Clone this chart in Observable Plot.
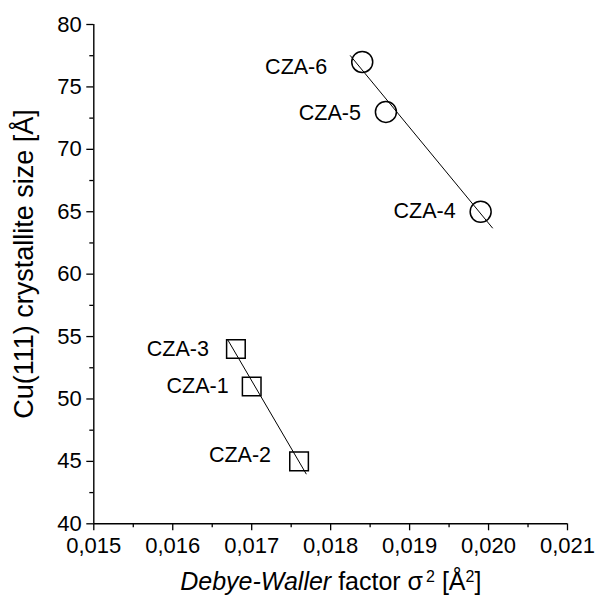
<!DOCTYPE html>
<html>
<head>
<meta charset="utf-8">
<script src="https://cdn.jsdelivr.net/npm/d3@7"></script>
<script src="https://cdn.jsdelivr.net/npm/@observablehq/plot@0.6"></script>
<style>
  html, body { margin: 0; padding: 0; background: #fff; }
  #chart { width: 595px; height: 601px; }
</style>
</head>
<body>
<div id="chart"></div>
<script>
// ---- data ----
const sampleNames = ["CZA-1", "CZA-2", "CZA-3", "CZA-4", "CZA-5", "CZA-6"];
const debyeWaller = [0.0170, 0.0176, 0.0168, 0.0199, 0.0187, 0.0184];
const crystalliteSize = [51, 45, 54, 65, 73, 77];
const markerShape = ["square", "square", "square", "circle", "circle", "circle"];

// fitted lines (end points)
const fitCircleX = [0.01825, 0.02005];
const fitCircleY = [77.5, 63.7];
const fitSquareX = [0.01670, 0.01769];
const fitSquareY = [54.7, 44.0];

const xTicks = [0.015, 0.016, 0.017, 0.018, 0.019, 0.020, 0.021];
const xTickLabels = ["0,015", "0,016", "0,017", "0,018", "0,019", "0,020", "0,021"];
const xMinorTicks = [0.0155, 0.0165, 0.0175, 0.0185, 0.0195, 0.0205];
const yTicks = [40, 45, 50, 55, 60, 65, 70, 75, 80];
const yTickLabels = ["40", "45", "50", "55", "60", "65", "70", "75", "80"];
const yMinorTicks = [42.5, 47.5, 52.5, 57.5, 62.5, 67.5, 72.5, 77.5];

// ---- tables built from arrays ----
const points = sampleNames.map((n, i) => ({name: n, x: debyeWaller[i], y: crystalliteSize[i], shape: markerShape[i]}));
const fitCircle = fitCircleX.map((x, i) => ({x, y: fitCircleY[i]}));
const fitSquare = fitSquareX.map((x, i) => ({x, y: fitSquareY[i]}));
const xLab = new Map(xTicks.map((t, i) => [t, xTickLabels[i]]));
const yLab = new Map(yTicks.map((t, i) => [t, yTickLabels[i]]));

// label nudges (style)
const labelNudge = {
  "CZA-1": [-23, 0], "CZA-2": [-28, -6], "CZA-3": [-27, 0],
  "CZA-4": [-25, -1], "CZA-5": [-25, 1], "CZA-6": [-35, 5]
};

const font = "'Liberation Sans', Arial, sans-serif";

const plot = Plot.plot({
  width: 595,
  height: 601,
  marginLeft: 93.3,
  marginRight: 28,
  marginTop: 24,
  marginBottom: 77.7,
  style: {fontFamily: font, fontSize: "22px", color: "#000", background: "#fff", overflow: "visible"},
  x: {domain: [0.015, 0.021], label: null},
  y: {domain: [40, 80], label: null},
  symbol: {legend: false},
  marks: [
    Plot.axisX({ticks: xTicks, tickSize: 7, tickPadding: 6.5, tickFormat: d => xLab.get(d), label: null, strokeWidth: 1.3, fontSize: 22}),
    Plot.axisX({ticks: xMinorTicks, tickSize: 4, tickFormat: () => "", label: null, strokeWidth: 1.3}),
    Plot.axisY({ticks: yTicks, tickSize: 7, tickPadding: 5, tickFormat: d => yLab.get(d), label: null, strokeWidth: 1.3, fontSize: 22}),
    Plot.axisY({ticks: yMinorTicks, tickSize: 4, tickFormat: () => "", label: null, strokeWidth: 1.3}),
    Plot.ruleY([40], {stroke: "#000", strokeWidth: 1.4}),
    Plot.ruleX([0.015], {stroke: "#000", strokeWidth: 1.4}),
    Plot.line(fitCircle, {x: "x", y: "y", stroke: "#000", strokeWidth: 1}),
    Plot.line(fitSquare, {x: "x", y: "y", stroke: "#000", strokeWidth: 1}),
    Plot.dot(points, {x: "x", y: "y", symbol: "shape", r: 10.5, stroke: "#000", strokeWidth: 1.5, fill: "none"}),
    ...points.map(p => Plot.text([p], {
      x: "x", y: "y", text: "name", textAnchor: "end",
      dx: labelNudge[p.name][0], dy: labelNudge[p.name][1],
      fontSize: 21.5, fill: "#000"
    }))
  ]
});

document.getElementById("chart").appendChild(plot);

// axis titles with rich text
const svg = d3.select(plot);
svg.append("text")
  .attr("transform", "translate(33.3,264) rotate(-90)")
  .attr("text-anchor", "middle")
  .attr("font-family", font)
  .attr("font-size", 27)
  .attr("fill", "#000")
  .text("Cu(111) crystallite size [Å]");

const xTitle = svg.append("text")
  .attr("x", 330.8)
  .attr("y", 590)
  .attr("text-anchor", "middle")
  .attr("font-family", font)
  .attr("font-size", 25)
  .attr("fill", "#000");
xTitle.append("tspan").attr("font-style", "italic").text("Debye-Waller");
xTitle.append("tspan").text(" factor σ");
xTitle.append("tspan").attr("baseline-shift", "super").attr("font-size", 16).attr("dx", 3).text("2");
xTitle.append("tspan").text(" [Å");
xTitle.append("tspan").attr("baseline-shift", "super").attr("font-size", 16).text("2");
xTitle.append("tspan").text("]");
</script>
</body>
</html>
